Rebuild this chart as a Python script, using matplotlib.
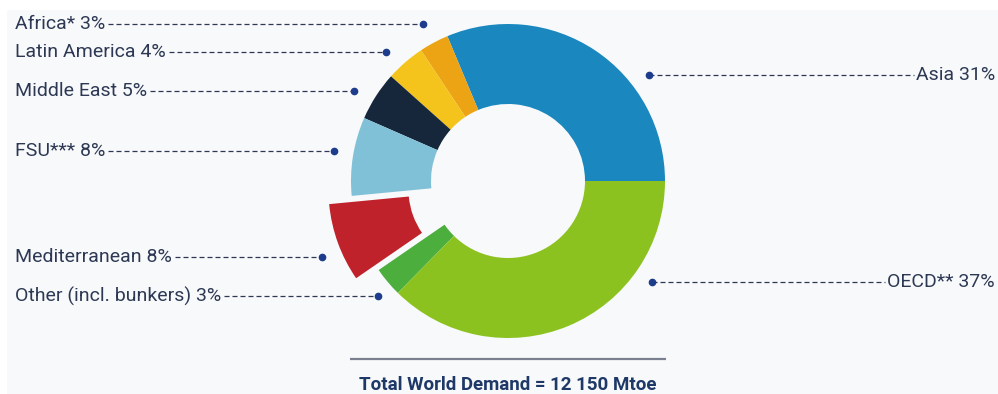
import matplotlib
matplotlib.use("Agg")
import matplotlib.pyplot as plt
from matplotlib.patches import Rectangle

# Regional shares of world demand (%), counter-clockwise from 3 o'clock
regions = ["Asia", "Africa*", "Latin America", "Middle East", "FSU***",
           "Mediterranean", "Other (incl. bunkers)", "OECD**"]
shares = [31, 3, 4, 5, 8, 8, 3, 37]
colors = ["#1a88bf", "#eca414", "#f4c41c", "#16263b", "#80c1d8",
          "#c0222b", "#4cae3c", "#8cc21f"]
explode_px = [0, 0, 0, 0, 0, 24, 0, 0]

total_text = "Total World Demand = 12 150 Mtoe"

W, H = 998, 394
fig = plt.figure(figsize=(W / 100, H / 100), dpi=100, facecolor="white")
ax = fig.add_axes([0, 0, 1, 1])
ax.set_facecolor("white")


def Y(y):
    # screen-style y (top = 0) to axes y
    return H - y


# paper background
ax.add_patch(Rectangle((7, -5), W, H - 5, facecolor="#f8f9fa",
                       edgecolor="none", zorder=0))

cx, cy = 508, Y(181)
R, ring = 157, 80
ax.pie(shares, colors=colors, startangle=0, counterclock=True,
       radius=R, center=(cx, cy), explode=explode_px,
       wedgeprops=dict(width=ring, linewidth=0), frame=False)

ax.set_xlim(0, W)
ax.set_ylim(0, H)
ax.set_aspect("equal")
ax.axis("off")

txt_col = "#2d3954"
dot_col = "#1d3c8c"
font = "Roboto"
fs = 14
dash = (0, (4, 2.4))

renderer = fig.canvas.get_renderer()

# left-side labels: (text, y of label row, dot x)
left = [
    (f"{regions[1]} {shares[1]}%", 24, 423),
    (f"{regions[2]} {shares[2]}%", 52, 386),
    (f"{regions[3]} {shares[3]}%", 91, 354),
    (f"{regions[4]} {shares[4]}%", 151, 334),
    (f"{regions[5]} {shares[5]}%", 257, 322),
    (f"{regions[6]} {shares[6]}%", 296, 378),
]
for label, y, dx in left:
    t = ax.text(15, Y(y), label, fontsize=fs, family=font, color=txt_col,
                ha="left", va="center")
    bb = t.get_window_extent(renderer=renderer)
    ax.plot([bb.x1 + 3, dx], [Y(y), Y(y)], color=txt_col, lw=0.9,
            linestyle=dash, solid_capstyle="butt")
    ax.plot(dx, Y(y), "o", color=dot_col, markersize=4.5, zorder=5)

# right-side labels, right-aligned near the edge: (text, y, dot x)
right = [
    (f"{regions[0]} {shares[0]}%", 75, 649),
    (f"{regions[7]} {shares[7]}%", 282, 652),
]
for label, y, dx in right:
    t = ax.text(995, Y(y), label, fontsize=fs, family=font, color=txt_col,
                ha="right", va="center")
    bb = t.get_window_extent(renderer=renderer)
    ax.plot([dx, bb.x0 - 2], [Y(y), Y(y)], color=txt_col, lw=0.9,
            linestyle=dash, solid_capstyle="butt")
    ax.plot(dx, Y(y), "o", color=dot_col, markersize=4.5, zorder=5)

# total line and caption
ax.plot([350, 666], [Y(359), Y(359)], color="#7b8090", lw=1.6,
        solid_capstyle="butt")
ax.text(508, Y(385), total_text, fontsize=13.5, family=font,
        fontweight="bold", color="#1e3868", ha="center", va="center")

fig.savefig("out.png", dpi=100, facecolor=fig.get_facecolor())
